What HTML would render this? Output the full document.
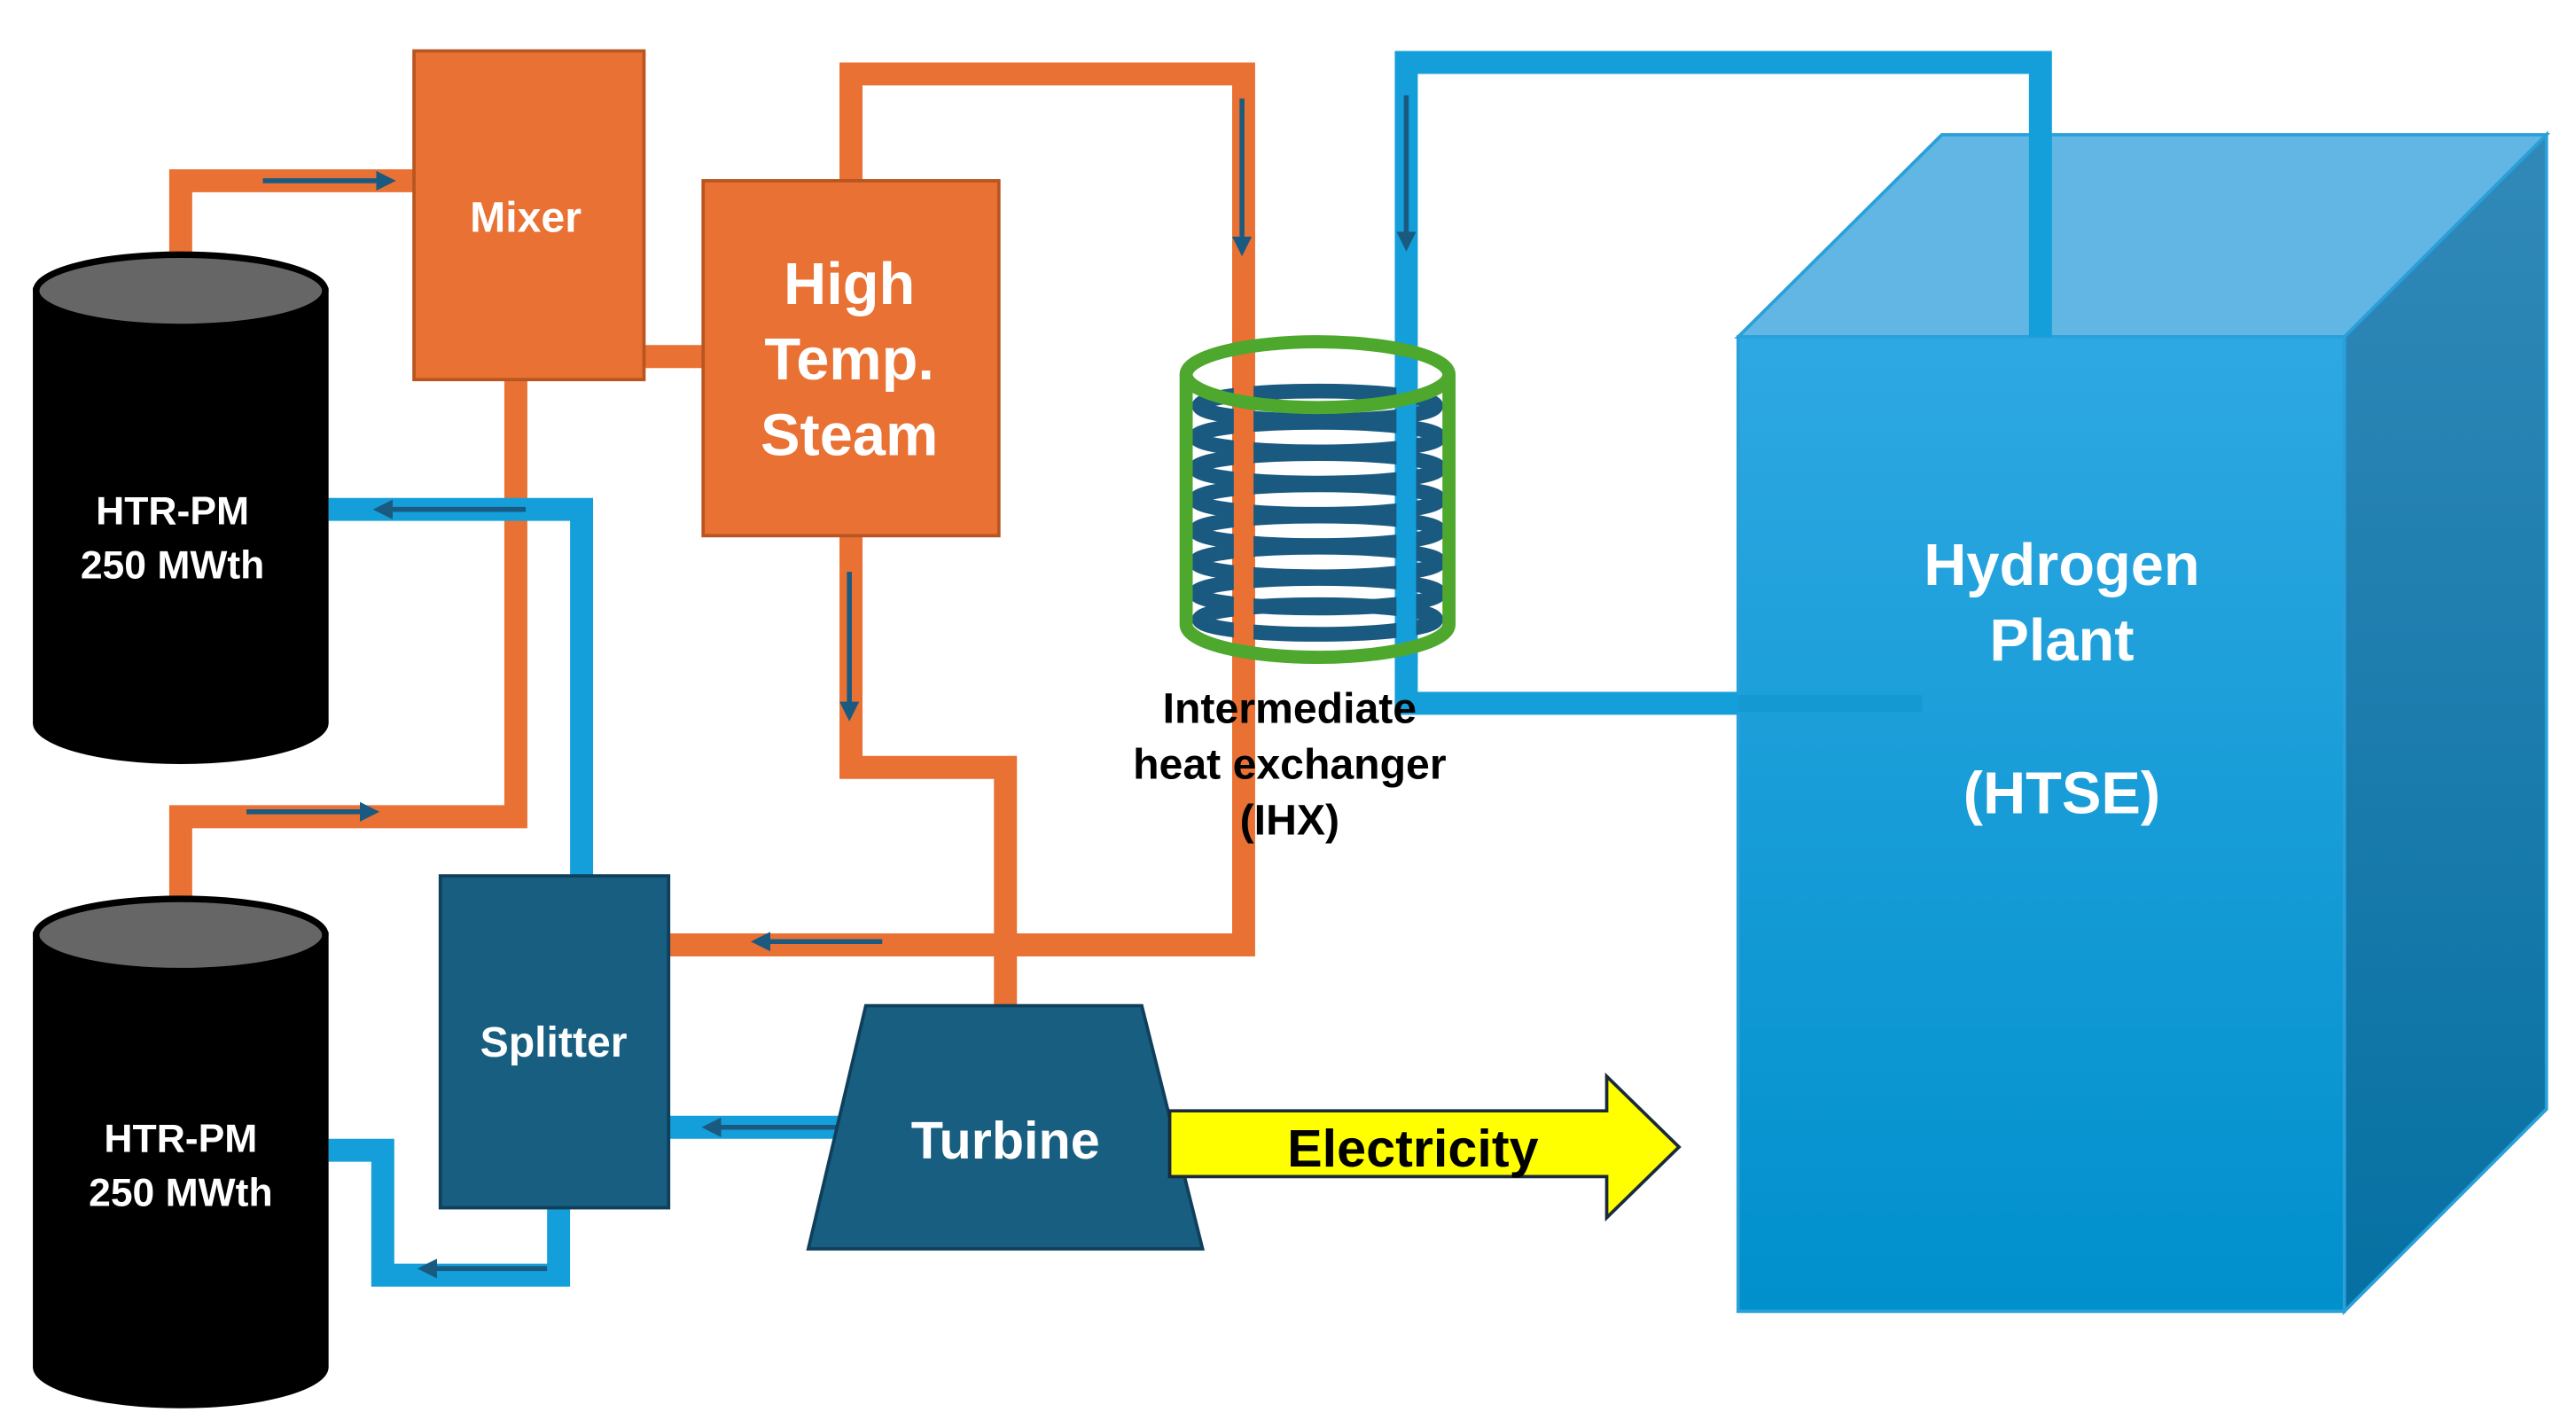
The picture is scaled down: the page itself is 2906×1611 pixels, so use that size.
<!DOCTYPE html>
<html><head><meta charset="utf-8"><style>html,body{margin:0;padding:0;background:#fff}svg{display:block}</style></head>
<body>
<svg width="2906" height="1611" viewBox="0 0 1568 869" preserveAspectRatio="none" xmlns="http://www.w3.org/2000/svg" font-family="Liberation Sans, sans-serif" font-weight="bold">
<defs>
<linearGradient id="front" x1="0" y1="0" x2="0" y2="1"><stop offset="0" stop-color="#2EA8E2"/><stop offset="1" stop-color="#0090CC"/></linearGradient>
<linearGradient id="side" x1="0" y1="0" x2="0" y2="1"><stop offset="0" stop-color="#3189B8"/><stop offset="1" stop-color="#0670A2"/></linearGradient>
<marker id="ah" markerWidth="4" markerHeight="4" refX="3" refY="2" orient="auto"><path d="M0,0 L4,2 L0,4 z" fill="#1B5A80"/></marker>
</defs>
<rect width="1568" height="869" fill="#fff"/>
<!-- cube -->
<polygon points="1058,205 1182,82 1550,82 1427,205" fill="#62B6E4" stroke="#2AA0DA" stroke-width="2"/>
<polygon points="1427,205 1550,82 1550,675 1427,798" fill="url(#side)" stroke="#2AA0DA" stroke-width="2"/>
<rect x="1058" y="205" width="369" height="593" fill="url(#front)" stroke="#2AA0DA" stroke-width="2"/>
<!-- blue loop -->
<polyline points="856,405 856,38 1242,38 1242,205" fill="none" stroke="#149FDA" stroke-width="14"/>
<polyline points="856,395 856,428 1058,428" fill="none" stroke="#149FDA" stroke-width="14"/>
<line x1="1058" y1="428" x2="1170" y2="428" stroke="#1499D2" stroke-width="10"/>
<line x1="856" y1="58" x2="856" y2="150" stroke="#1B5A80" stroke-width="3" marker-end="url(#ah)"/>
<!-- orange pipes -->
<g fill="none" stroke="#E87133" stroke-width="14">
<polyline points="110,160 110,110 252,110"/>
<line x1="392" y1="217" x2="428" y2="217"/>
<polyline points="314,231 314,497 110,497 110,550"/>
<polyline points="518,110 518,45 757,45 757,575 407,575"/>
<polyline points="518,326 518,467 612,467 612,612"/>
</g>
<!-- blue pipes -->
<g fill="none" stroke="#149FDA" stroke-width="14">
<polyline points="200,310 354,310 354,533"/>
<line x1="407" y1="686" x2="512" y2="686"/>
<polyline points="200,700 233,700 233,776 340,776 340,735"/>
</g>
<!-- arrows -->
<g stroke="#1B5A80" stroke-width="3">
<line x1="160" y1="110" x2="238" y2="110" marker-end="url(#ah)"/>
<line x1="150" y1="494" x2="228" y2="494" marker-end="url(#ah)"/>
<line x1="756" y1="60" x2="756" y2="153" marker-end="url(#ah)"/>
<line x1="517" y1="348" x2="517" y2="436" marker-end="url(#ah)"/>
<line x1="537" y1="573" x2="460" y2="573" marker-end="url(#ah)"/>
<line x1="320" y1="310" x2="230" y2="310" marker-end="url(#ah)"/>
<line x1="510" y1="686" x2="430" y2="686" marker-end="url(#ah)"/>
<line x1="333" y1="772" x2="257" y2="772" marker-end="url(#ah)"/>
</g>
<!-- cylinders -->
<g>
<rect x="20" y="175" width="180" height="265" fill="#000"/>
<ellipse cx="110" cy="440" rx="90" ry="25" fill="#000"/>
<ellipse cx="110" cy="177" rx="88" ry="22" fill="#666" stroke="#000" stroke-width="4"/>
<rect x="20" y="567" width="180" height="265" fill="#000"/>
<ellipse cx="110" cy="832" rx="90" ry="25" fill="#000"/>
<ellipse cx="110" cy="569" rx="88" ry="22" fill="#666" stroke="#000" stroke-width="4"/>
</g>
<g fill="#fff" font-size="24" text-anchor="middle">
<text x="105" y="319">HTR-PM</text><text x="105" y="352">250 MWth</text>
<text x="110" y="701">HTR-PM</text><text x="110" y="734">250 MWth</text>
</g>
<!-- boxes -->
<rect x="252" y="31" width="140" height="200" fill="#E87133" stroke="#B85520" stroke-width="2"/>
<rect x="428" y="110" width="180" height="216" fill="#E87133" stroke="#B85520" stroke-width="2"/>
<rect x="268" y="533" width="139" height="202" fill="#175E80" stroke="#0F3F5A" stroke-width="2"/>
<polygon points="527,612 695,612 732,760 492,760" fill="#175E80" stroke="#0F3F5A" stroke-width="2"/>
<g fill="#fff" text-anchor="middle">
<text x="320" y="141" font-size="26">Mixer</text>
<text x="517" y="185" font-size="36">High</text>
<text x="517" y="231" font-size="36">Temp.</text>
<text x="517" y="277" font-size="36">Steam</text>
<text x="337" y="643" font-size="26">Splitter</text>
<text x="612" y="705" font-size="32">Turbine</text>
</g>
<!-- electricity -->
<polygon points="712,676 978,676 978,655 1022,698 978,741 978,716 712,716" fill="#FFFF00" stroke="#1a2a3a" stroke-width="2"/>
<text x="860" y="710" font-size="32" text-anchor="middle" fill="#000">Electricity</text>
<!-- IHX -->
<g fill="none">
<g stroke="#1B5A80" stroke-width="9">
<ellipse cx="802" cy="247" rx="72" ry="9"/>
<ellipse cx="802" cy="266" rx="74" ry="9"/>
<ellipse cx="802" cy="285" rx="74" ry="9"/>
<ellipse cx="802" cy="304" rx="74" ry="9"/>
<ellipse cx="802" cy="323" rx="74" ry="9"/>
<ellipse cx="802" cy="342" rx="74" ry="9"/>
<ellipse cx="802" cy="361" rx="74" ry="9"/>
<ellipse cx="802" cy="377" rx="72" ry="9"/>
</g>
<line x1="757" y1="200" x2="757" y2="400" stroke="#E87133" stroke-width="12"/>
<line x1="856" y1="200" x2="856" y2="405" stroke="#149FDA" stroke-width="12"/>
<g stroke="#4EA82E" stroke-width="8">
<ellipse cx="802" cy="228" rx="80" ry="20"/>
<path d="M722,228 L722,380 A80,20 0 0 0 882,380 L882,228"/>
</g>
</g>
<g fill="#000" font-size="26" text-anchor="middle">
<text x="785" y="440">Intermediate</text>
<text x="785" y="474">heat exchanger</text>
<text x="785" y="508">(IHX)</text>
</g>
<g fill="#fff" font-size="36" text-anchor="middle">
<text x="1255" y="356">Hydrogen</text>
<text x="1255" y="402">Plant</text>
<text x="1255" y="495">(HTSE)</text>
</g>
</svg>
</body></html>
